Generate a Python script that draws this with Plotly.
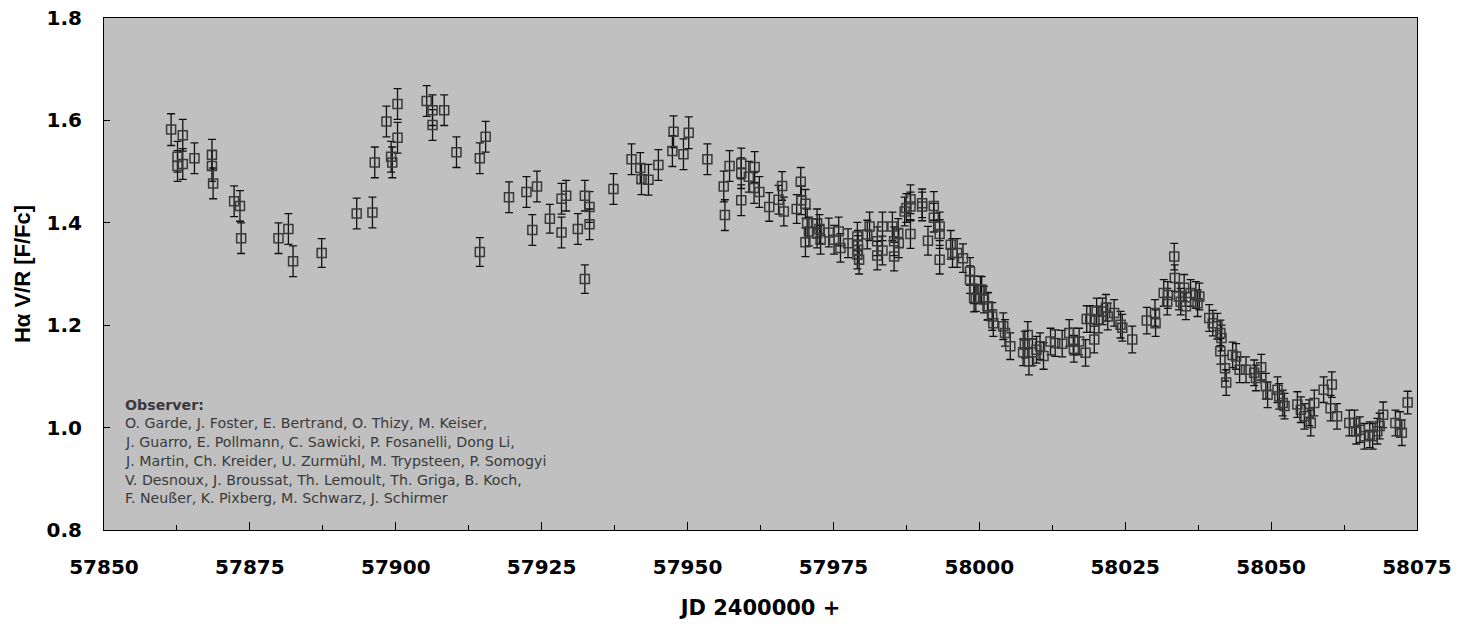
import plotly.graph_objects as go

# Julian dates (JD - 2400000)
jd = [
    57861.5, 57862.6, 57862.6, 57863.5, 57863.5, 57865.5, 57868.5, 57868.5, 57868.7, 57872.3,
    57873.3, 57873.5, 57879.9, 57881.6, 57882.4, 57887.3, 57893.3, 57896.0, 57896.4, 57898.4,
    57899.2, 57899.4, 57900.3, 57900.3, 57905.3, 57906.3, 57906.3, 57908.3, 57910.4,
    57915.4, 57914.4, 57914.4, 57919.4, 57922.4, 57924.2, 57923.4, 57926.4, 57928.4, 57929.2,
    57928.4, 57931.2, 57932.4, 57932.4, 57933.2, 57933.2, 57937.3,
    57940.4, 57941.9, 57942.1, 57943.3, 57945.0, 57947.6, 57947.4, 57949.3, 57950.2, 57953.4,
    57956.2, 57956.4, 57957.2, 57959.2, 57959.2, 57959.2, 57960.5, 57961.5, 57961.4, 57962.3,
    57964.0, 57965.6, 57966.2, 57966.5, 57968.7, 57969.4, 57969.5, 57970.2, 57970.2, 57970.5,
    57970.8, 57972.2, 57972.6, 57972.2, 57972.8, 57974.2, 57975.1, 57975.9, 57976.2, 57977.5,
    57979.1, 57979.2, 57979.2, 57979.4, 57979.1, 57981.2, 57980.8, 57982.5, 57982.5, 57983.4,
    57983.4, 57985.1, 57985.4, 57985.4, 57986.1, 57986.2, 57987.2, 57987.5, 57988.2, 57988.2,
    57988.2, 57990.2, 57990.2, 57991.2, 57992.2, 57992.2, 57993.2, 57993.2, 57993.2, 57995.1,
    57995.4, 57996.2, 57997.2, 57998.4, 57998.4, 57999.1, 57999.1, 58000.2, 58001.4, 58002.2,
    57999.4, 58000.4, 58000.8, 58001.5, 58002.4, 58004.1, 58004.4, 58005.3, 58007.5, 58008.3,
    58008.5, 58009.1, 58009.8, 58010.4, 58012.2, 58014.2, 58015.4, 58016.1, 58016.2, 58017.1,
    58018.2, 58018.4, 58019.0, 58019.7, 58020.1, 58020.5, 58021.1, 58021.7, 58022.0, 58023.1,
    58024.2, 58024.5, 58026.2, 58028.7, 58030.1, 58030.2, 58031.6, 58032.2, 58032.3, 58033.4,
    58033.5, 58034.2, 58034.5, 58035.1, 58035.4, 58036.2, 58037.1, 58037.7, 58037.4, 58039.4,
    58040.0, 58040.8, 58041.3, 58041.5, 58041.3, 58042.1, 58042.3, 58043.4, 58044.0, 58044.6,
    58045.7, 58047.1, 58047.4, 58048.3, 58049.1, 58049.4, 58051.1, 58051.4, 58052.0, 58052.3,
    58054.5, 58055.1, 58055.7, 58056.5, 58056.8, 58057.4, 58059.0, 58060.4, 58060.2, 58061.3,
    58063.4, 58064.3, 58064.6, 58065.2, 58066.0, 58066.9, 58067.4, 58068.2, 58068.6, 58069.2,
    58071.3, 58072.1, 58072.4, 58073.4, 58007.8, 58011.0, 58013.0,
]

# H-alpha V/R ratio
vr = [
    1.582, 1.529, 1.511, 1.571, 1.515, 1.526, 1.533, 1.511, 1.477, 1.442,
    1.433, 1.370, 1.370, 1.388, 1.325, 1.341, 1.418, 1.420, 1.518, 1.598,
    1.529, 1.518, 1.632, 1.566, 1.638, 1.620, 1.591, 1.620, 1.538,
    1.568, 1.526, 1.343, 1.450, 1.460, 1.471, 1.386, 1.408, 1.447, 1.453,
    1.381, 1.388, 1.453, 1.290, 1.431, 1.397, 1.466,
    1.524, 1.507, 1.485, 1.484, 1.513, 1.578, 1.540, 1.534, 1.576, 1.524,
    1.471, 1.415, 1.511, 1.516, 1.497, 1.444, 1.490, 1.509, 1.468, 1.460,
    1.431, 1.445, 1.472, 1.422, 1.427, 1.480, 1.444, 1.437, 1.362, 1.399,
    1.383, 1.399, 1.388, 1.379, 1.367, 1.381, 1.367, 1.383, 1.351, 1.360,
    1.373, 1.357, 1.347, 1.328, 1.338, 1.393, 1.377, 1.364, 1.336, 1.393,
    1.346, 1.393, 1.364, 1.334, 1.380, 1.360, 1.422, 1.429, 1.446, 1.432,
    1.378, 1.438, 1.432, 1.365, 1.433, 1.410, 1.393, 1.378, 1.328, 1.357,
    1.341, 1.341, 1.331, 1.305, 1.289, 1.269, 1.253, 1.269, 1.237, 1.217,
    1.253, 1.269, 1.250, 1.237, 1.204, 1.198, 1.185, 1.159, 1.147, 1.181,
    1.129, 1.147, 1.152, 1.159, 1.168, 1.164, 1.185, 1.168, 1.154, 1.168,
    1.146, 1.212, 1.212, 1.172, 1.227, 1.211, 1.227, 1.234, 1.217, 1.224,
    1.201, 1.195, 1.172, 1.209, 1.224, 1.204, 1.263, 1.246, 1.259, 1.334,
    1.292, 1.256, 1.246, 1.273, 1.237, 1.263, 1.259, 1.256, 1.243, 1.214,
    1.204, 1.198, 1.185, 1.175, 1.149, 1.116, 1.088, 1.142, 1.139, 1.113,
    1.113, 1.107, 1.097, 1.118, 1.081, 1.064, 1.074, 1.061, 1.048, 1.042,
    1.045, 1.035, 1.022, 1.029, 1.009, 1.048, 1.074, 1.084, 1.038, 1.022,
    1.009, 1.009, 0.993, 0.996, 0.983, 0.986, 0.983, 0.993, 1.003, 1.025,
    1.009, 1.006, 0.990, 1.049, 1.162, 1.140, 1.165,
]

# error bar half-lengths
err = [
    0.031, 0.030, 0.030, 0.031, 0.030, 0.030, 0.030, 0.030, 0.030, 0.030,
    0.030, 0.030, 0.030, 0.030, 0.030, 0.028, 0.030, 0.030, 0.030, 0.030,
    0.030, 0.030, 0.030, 0.030, 0.030, 0.030, 0.030, 0.030, 0.030,
    0.030, 0.030, 0.028, 0.030, 0.030, 0.030, 0.030, 0.028, 0.030, 0.030,
    0.030, 0.030, 0.030, 0.028, 0.030, 0.030, 0.030,
    0.030, 0.030, 0.030, 0.030, 0.030, 0.031, 0.030, 0.030, 0.031, 0.030,
    0.030, 0.030, 0.030, 0.030, 0.030, 0.030, 0.030, 0.030, 0.030, 0.030,
    0.028, 0.028, 0.028, 0.028, 0.028, 0.028, 0.028, 0.028, 0.028, 0.028,
    0.028, 0.028, 0.028, 0.028, 0.028, 0.028, 0.028, 0.028, 0.028, 0.028,
    0.028, 0.028, 0.028, 0.028, 0.028, 0.028, 0.028, 0.028, 0.028, 0.028,
    0.028, 0.028, 0.028, 0.028, 0.028, 0.028, 0.028, 0.028, 0.028, 0.028,
    0.028, 0.028, 0.028, 0.028, 0.028, 0.028, 0.028, 0.028, 0.028, 0.028,
    0.028, 0.028, 0.028, 0.027, 0.027, 0.027, 0.027, 0.027, 0.027, 0.027,
    0.026, 0.026, 0.026, 0.026, 0.026, 0.026, 0.026, 0.026, 0.026, 0.026,
    0.026, 0.026, 0.026, 0.026, 0.026, 0.026, 0.026, 0.026, 0.026, 0.026,
    0.026, 0.026, 0.026, 0.026, 0.026, 0.026, 0.026, 0.026, 0.026, 0.026,
    0.026, 0.026, 0.026, 0.026, 0.026, 0.026, 0.026, 0.026, 0.026, 0.026,
    0.026, 0.026, 0.026, 0.026, 0.026, 0.026, 0.026, 0.026, 0.026, 0.026,
    0.025, 0.025, 0.025, 0.025, 0.025, 0.025, 0.025, 0.025, 0.025, 0.025,
    0.025, 0.025, 0.025, 0.025, 0.025, 0.025, 0.025, 0.025, 0.025, 0.025,
    0.025, 0.025, 0.025, 0.025, 0.025, 0.025, 0.025, 0.025, 0.025, 0.025,
    0.025, 0.025, 0.025, 0.025, 0.025, 0.025, 0.025, 0.025, 0.025, 0.025,
    0.025, 0.025, 0.025, 0.022, 0.026, 0.026, 0.026,
]

observer_title = "Observer:"
observers = [
    "O. Garde, J. Foster, E. Bertrand, O. Thizy, M. Keiser,",
    "J. Guarro, E. Pollmann, C. Sawicki, P. Fosanelli, Dong Li,",
    "J. Martin, Ch. Kreider, U. Zurmühl, M. Trypsteen, P. Somogyi",
    "V. Desnoux, J. Broussat, Th. Lemoult, Th. Griga, B. Koch,",
    "F. Neußer, K. Pixberg, M. Schwarz, J. Schirmer",
]

x_ticks = [57850, 57875, 57900, 57925, 57950, 57975, 58000, 58025, 58050, 58075]
y_ticks = [0.8, 1.0, 1.2, 1.4, 1.6, 1.8]

fig = go.Figure()
fig.add_trace(go.Scatter(
    x=jd, y=vr, mode="markers",
    marker=dict(symbol="square-open", size=9, color="#3a3a3a", line=dict(width=1.5, color="#3a3a3a")),
    error_y=dict(type="data", array=err, visible=True, color="#111111", thickness=1.3, width=4),
    showlegend=False,
))

# observer block: title + lines, placed in paper coordinates
plot_top_px, plot_bot_px = 18.0, 530.5
line_centres_px = [405.0, 423.5, 442.3, 461.0, 480.0, 498.5]
texts = ["<b>" + observer_title + "</b>"] + observers
for txt, ypx in zip(texts, line_centres_px):
    fig.add_annotation(
        x=0.0147, y=(plot_bot_px - ypx) / (plot_bot_px - plot_top_px),
        xref="paper", yref="paper", xanchor="left", yanchor="middle",
        align="left", showarrow=False, text=txt,
        font=dict(family="DejaVu Sans", size=14.2, color="#3a3a3a"),
    )

fig.update_layout(
    width=1461, height=628,
    margin=dict(l=96, r=52, t=10, b=105.5, autoexpand=False),
    paper_bgcolor="white", plot_bgcolor="#c0c0c0",
    font=dict(family="DejaVu Sans", color="black"),
)
fig.update_xaxes(
    range=[57850, 58075], tickvals=x_ticks, ticktext=[str(v) for v in x_ticks],
    showgrid=False, zeroline=False, showline=True, linecolor="black", linewidth=1, mirror=True,
    ticks="inside", ticklen=8, tickcolor="black", automargin=False,
    minor=dict(ticks="inside", ticklen=5, tick0=57862.5, dtick=25, tickcolor="black", showgrid=False),
    tickfont=dict(size=20, family="DejaVu Sans", color="black", weight="bold"),
    ticklabelstandoff=19, ticklabeloverflow="allow",
    title=dict(text="<b>JD 2400000 +</b>", font=dict(size=21, family="DejaVu Sans"), standoff=22),
)
fig.update_yaxes(
    range=[0.8, 1.8], tickvals=y_ticks, ticktext=[f"{v:.1f}" for v in y_ticks],
    showgrid=False, zeroline=False, showline=True, linecolor="black", linewidth=1, mirror=True,
    ticks="inside", ticklen=6, tickcolor="black", automargin=False,
    tickfont=dict(size=20, family="DejaVu Sans", color="black", weight="bold"),
    ticklabelstandoff=17, ticklabeloverflow="allow",
    title=dict(text="<b>Hα V/R [F/Fc]</b>", font=dict(size=22, family="Liberation Sans"), standoff=9),
)

fig.write_html("out.html")
